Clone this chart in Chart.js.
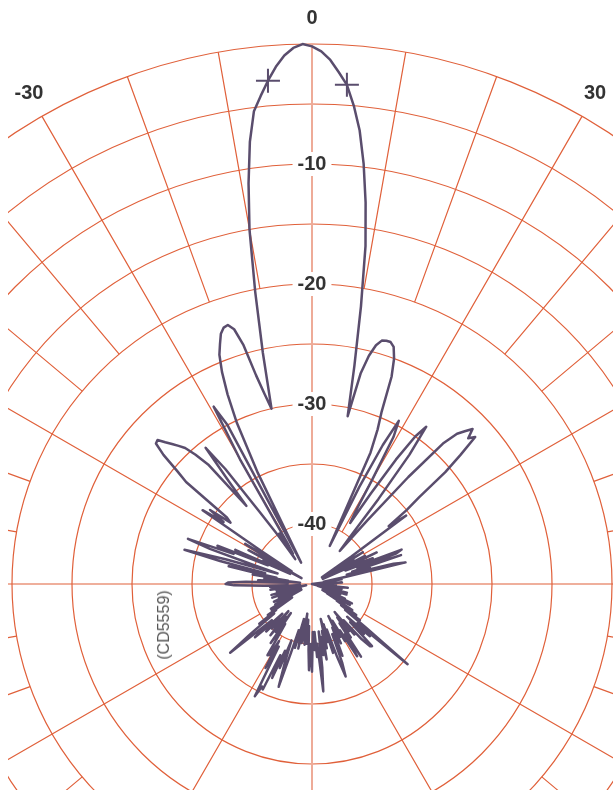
<!DOCTYPE html>
<html>
<head>
<meta charset="utf-8">
<script src="https://cdn.jsdelivr.net/npm/chart.js@4.4.1/dist/chart.umd.min.js"></script>
<style>
  html, body { margin: 0; padding: 0; background: #fff; }
  #wrap { position: relative; width: 613px; height: 794px; overflow: hidden; }
  #clip { position: absolute; left: 8px; top: 0; width: 605px; height: 790px; overflow: hidden; }
  #polar { position: absolute; left: -248px; top: -8px; }
  #code { position: absolute; left: 164px; top: 625px; transform: translate(-50%, -50%) rotate(-90deg);
          font: 16px "Liberation Sans", Arial, sans-serif; color: #555; white-space: nowrap; }
</style>
</head>
<body>
<div id="wrap">
  <div id="clip"><canvas id="polar" width="1104" height="1144"></canvas></div>
  <div id="code">(CD5559)</div>
</div>
<script>
// gain in dB, right side: 0..180 deg
const gainRight = [
  -0.2, -0.6, -1.3, -2.3, -3.3, -5.0, -7.0, -9.7, -12.9, -16.5,
  -21.5, -26.5, -30.7, -27.0, -25.4, -24.4, -23.9, -23.8, -23.8, -24.1,
  -25.0, -26.5, -29.5, -31.0, -33.0, -41.5, -36.0, -32.0, -29.6, -31.0,
  -35.0, -38.0, -39.0, -36.0, -32.5, -30.0, -28.8, -31.5, -36.0, -40.0,
  -41.4, -38.0, -33.0, -29.0, -27.6, -27.0, -26.4, -27.2, -26.7, -28.6,
  -30.5, -33.5, -35.0, -37.0, -35.3, -41.0, -44.0, -42.0, -40.0, -43.0,
  -41.0, -44.0, -40.0, -42.0, -39.0, -44.0, -41.0, -39.5, -42.0, -37.0,
  -37.5, -41.0, -37.2, -41.5, -40.0, -42.0, -38.0, -37.0, -42.0, -44.0,
  -43.0, -42.5, -44.0, -43.0, -45.0, -43.0, -44.0, -42.5, -44.0, -43.5,
  -43.0, -43.0, -44.5, -43.0, -44.0, -44.5, -42.0, -44.0, -43.0, -45.0,
  -42.5, -44.0, -43.5, -45.0, -42.0, -43.5, -44.0, -42.0, -44.5, -43.0,
  -42.5, -44.0, -42.8, -44.0, -42.0, -43.5, -41.3, -43.0, -41.8, -41.4,
  -44.0, -42.0, -43.5, -41.0, -42.5, -40.5, -42.0, -40.0, -41.5, -39.2,
  -34.6, -40.0, -38.5, -41.0, -39.0, -40.5, -37.8, -37.9, -38.8, -41.0,
  -39.5, -42.0, -40.0, -41.5, -39.5, -41.0, -37.7, -40.0, -37.9, -40.5,
  -39.5, -41.5, -40.0, -42.0, -39.5, -41.0, -40.0, -38.5, -40.5, -38.0,
  -36.8, -38.6, -41.0, -39.0, -41.5, -40.0, -42.0, -39.5, -41.0, -38.6,
  -40.5, -39.0, -41.0, -38.0, -36.0, -40.0, -38.9, -41.0, -39.5, -41.0,
  -37.7
];
// gain in dB, left side: -1..-179 deg
const gainLeft = [
  0.0, -0.3, -0.9, -1.8, -2.9, -4.1, -5.3, -7.8, -11.2, -15.0,
  -20.2, -25.3, -30.0, -28.7, -27.0, -24.3, -22.8, -22.3, -22.4, -22.8,
  -23.6, -24.4, -25.8, -27.7, -30.2, -34.7, -43.0, -30.0, -28.1, -33.0,
  -41.0, -42.0, -40.0, -42.5, -40.0, -37.5, -33.0, -30.6, -34.0, -36.5,
  -31.8, -30.5, -29.5, -29.0, -28.5, -28.0, -27.4, -27.5, -28.6, -30.3,
  -31.5, -36.0, -36.5, -34.5, -36.0, -34.0, -40.0, -43.0, -38.5, -41.0,
  -44.0, -39.0, -42.0, -40.5, -43.0, -38.0, -41.0, -36.5, -38.0, -34.0,
  -36.0, -40.0, -42.0, -37.5, -34.0, -37.1, -41.0, -37.9, -40.5, -42.0,
  -40.0, -43.0, -41.0, -44.0, -42.0, -40.5, -43.0, -39.5, -38.0, -37.8,
  -38.5, -41.0, -43.0, -41.5, -44.0, -42.0, -43.5, -41.5, -44.0, -42.0,
  -43.0, -44.5, -42.0, -43.5, -41.5, -44.0, -42.5, -43.0, -41.5, -43.0,
  -42.8, -44.0, -42.0, -43.5, -41.5, -43.0, -42.0, -44.0, -41.5, -43.0,
  -41.0, -42.5, -41.0, -43.0, -40.5, -41.3, -39.5, -41.0, -38.5, -36.1,
  -39.0, -40.5, -38.5, -40.0, -41.5, -39.5, -41.0, -40.0, -42.0, -40.8,
  -39.5, -41.5, -40.0, -42.0, -39.0, -41.0, -40.0, -38.0, -38.1, -39.5,
  -37.0, -39.1, -34.5, -35.5, -35.3, -38.5, -36.5, -39.0, -37.5, -40.0,
  -38.0, -36.0, -39.0, -41.0, -39.5, -40.8, -42.0, -39.5, -41.5, -40.0,
  -42.5, -40.5, -39.9, -42.0, -40.0, -41.5, -39.5, -37.8, -40.0
];
// -3 dB beamwidth markers
const markerAngles = [-5, 4];
const markerValues = [-2.9, -3.3];

const angleTickAngles = [0, 30, -30];
const angleTickLabels = ['0', '30', '-30'];
const radialTickValues = [-10, -20, -30, -40];

const dbMin = -45, dbMax = 0;

// one label per degree, 0..359 clockwise from top
const labels = [];
const gain = [];
const markers = [];
for (let i = 0; i < 360; i++) {
  labels.push(i);
  gain.push(i <= 180 ? gainRight[i] : gainLeft[359 - i]);
  markers.push(null);
}
markerAngles.forEach((a, k) => { markers[(a + 360) % 360] = markerValues[k]; });

const gridColor = '#e0603a';
const axisColor = '#eeab98';
const lineColor = '#5a4d6d';

const angleLabelsPlugin = {
  id: 'angleLabels',
  afterDraw(chart) {
    const s = chart.scales.r;
    const ctx = chart.ctx;
    ctx.save();
    ctx.font = 'bold 20px "Liberation Sans", Arial, sans-serif';
    ctx.fillStyle = '#333';
    ctx.textAlign = 'center';
    ctx.textBaseline = 'middle';
    angleTickAngles.forEach((a, k) => {
      const p = s.getPointPosition((a + 360) % 360, s.drawingArea + 26);
      ctx.fillText(angleTickLabels[k], p.x, p.y);
    });
    ctx.restore();
  }
};

// spokes every 10 deg; 30 deg ones reach the -40 ring, others stop at -20
function spokeStart(c) {
  const s = c.chart.scales.r;
  const a = c.index;
  if (a % 90 === 0) return [];
  const from = a % 30 === 0 ? -40 : -20;
  return [0, s.getDistanceFromCenterForValue(from), 3000, 0];
}

new Chart(document.getElementById('polar'), {
  type: 'radar',
  data: {
    labels: labels,
    datasets: [{
      data: gain,
      borderColor: lineColor,
      borderWidth: 2.5,
      fill: false,
      pointRadius: 0,
      tension: 0
    }, {
      data: markers,
      showLine: false,
      pointStyle: 'cross',
      pointRadius: 12,
      borderColor: lineColor,
      borderWidth: 2,
      spanGaps: false
    }]
  },
  options: {
    responsive: false,
    animation: false,
    devicePixelRatio: 1,
    layout: { padding: { top: 40 } },
    plugins: { legend: { display: false }, tooltip: { enabled: false } },
    elements: { line: { borderJoinStyle: 'round' } },
    scales: {
      r: {
        min: dbMin,
        max: dbMax,
        beginAtZero: false,
        angleLines: {
          display: true,
          color: c => c.index % 180 === 0 ? axisColor : (c.index % 10 === 0 ? gridColor : 'rgba(0,0,0,0)'),
          lineWidth: c => c.index % 180 === 0 ? 2 : (c.index % 10 === 0 ? 1.2 : 0),
          borderDash: spokeStart
        },
        grid: { circular: true, color: gridColor, lineWidth: 1.2 },
        pointLabels: { display: false },
        ticks: {
          stepSize: 5,
          z: 1,
          font: { size: 20, weight: 'bold', family: '"Liberation Sans", Arial, sans-serif' },
          color: '#333',
          backdropColor: '#fff',
          backdropPadding: { x: 5, y: 2 },
          showLabelBackdrop: c => radialTickValues.includes(c.tick.value),
          callback: v => radialTickValues.includes(v) ? String(v) : ''
        }
      }
    }
  },
  plugins: [angleLabelsPlugin]
});
</script>
</body>
</html>
